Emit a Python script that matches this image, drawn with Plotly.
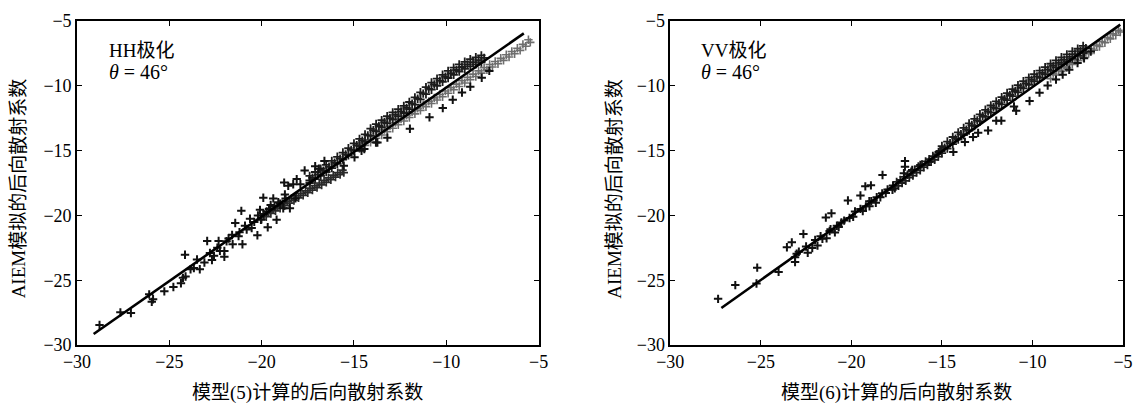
import plotly.graph_objects as go

# ---------------- HH polarisation (model 5) ----------------
# scattered points at the weak-backscatter end
hh_scatter_x = [-28.78, -27.65, -27.08, -26.09, -25.95, -25.88, -25.27, -24.78, -24.37, -24.26,
                -24.15, -24.12, -23.85, -23.67, -23.35, -23.10, -22.95, -22.69, -22.58, -22.33,
                -22.26, -22.02, -22.02, -21.79, -21.57, -21.43, -21.25, -21.10, -21.04, -20.81,
                -20.63, -20.54, -20.23, -20.09, -20.04, -19.91, -19.73, -19.67, -19.51, -19.37,
                -19.19, -19.10, -18.83, -18.78, -18.74, -18.56, -18.47, -18.29, -18.17,
                -23.50, -22.80, -22.40, -21.90, -21.60, -21.20, -20.90, -20.40, -20.20, -19.90,
                -19.60, -19.30, -19.00, -18.70, -17.67, -17.10, -16.60, -18.10, -17.90, -17.40, -16.90]
hh_scatter_y = [-28.45, -27.48, -27.53, -26.09, -26.67, -26.47, -25.86, -25.53, -25.23, -24.82,
                -23.04, -24.72, -24.16, -24.06, -24.16, -23.63, -21.98, -23.45, -23.12, -21.98,
                -22.74, -22.74, -23.20, -21.78, -22.23, -20.59, -21.60, -19.65, -22.23, -21.09,
                -20.26, -20.97, -21.53, -19.57, -20.33, -18.64, -19.70, -20.92, -19.19, -18.69,
                -20.33, -18.99, -19.45, -17.47, -18.38, -17.72, -19.45, -17.60, -18.69,
                -23.40, -22.90, -22.50, -22.00, -21.50, -21.30, -20.80, -20.50, -20.00, -19.90,
                -19.50, -19.30, -19.10, -18.70, -16.53, -16.20, -15.80, -17.20, -17.60, -17.30, -16.40]

# dense band lying above the fitted line (three overlapping rows)
hh_upper_x = [-17.4, -17.1, -16.8, -16.5, -16.2, -15.9, -15.6, -15.3, -15.0, -14.7, -14.4, -14.1,
              -13.8, -13.5, -13.2, -12.9, -12.6, -12.3, -12.0, -11.7, -11.4, -11.1, -10.8, -10.5,
              -10.2, -9.9, -9.6, -9.3, -9.0, -8.7, -8.4, -8.1,
              -17.25, -16.95, -16.65, -16.35, -16.05, -15.75, -15.45, -15.15, -14.85, -14.55,
              -14.25, -13.95, -13.65, -13.35, -13.05, -12.75, -12.45, -12.15, -11.85, -11.55,
              -11.25, -10.95, -10.65, -10.35, -10.05, -9.75, -9.45, -9.15, -8.85, -8.55, -8.25, -7.95,
              -17.4, -17.1, -16.8, -16.5, -16.2, -15.9, -15.6, -15.3, -15.0, -14.7, -14.4, -14.1,
              -13.8, -13.5, -13.2, -12.9, -12.6, -12.3, -12.0, -11.7, -11.4, -11.1, -10.8, -10.5,
              -10.2, -9.9, -9.6, -9.3, -9.0, -8.7, -8.4, -8.1]
hh_upper_y = [-16.95, -16.65, -16.40, -16.10, -15.80, -15.48, -15.15, -14.82, -14.45, -14.10,
              -13.75, -13.30, -12.95, -12.65, -12.35, -12.05, -11.80, -11.55, -11.25, -10.90,
              -10.50, -10.10, -9.75, -9.45, -9.15, -8.85, -8.60, -8.35, -8.15, -7.95, -7.80, -7.65,
              -17.10, -16.83, -16.55, -16.25, -15.94, -15.62, -15.29, -14.95, -14.58, -14.23,
              -13.83, -13.43, -13.10, -12.80, -12.50, -12.23, -11.97, -11.70, -11.38, -11.00,
              -10.60, -10.23, -9.90, -9.60, -9.30, -9.03, -8.78, -8.55, -8.35, -8.17, -8.03, -7.85,
              -17.50, -17.20, -16.95, -16.65, -16.35, -16.03, -15.70, -15.37, -15.00, -14.65,
              -14.30, -13.85, -13.50, -13.20, -12.90, -12.60, -12.35, -12.10, -11.80, -11.45,
              -11.05, -10.65, -10.30, -10.00, -9.70, -9.40, -9.15, -8.90, -8.70, -8.50, -8.35, -8.20]

# short band just under the line between -20 and -15.5
hh_short_x = [-20.0, -19.75, -19.5, -19.25, -19.0, -18.75, -18.5, -18.25, -18.0, -17.75, -17.5,
              -17.25, -17.0, -16.75, -16.5, -16.25, -16.0, -15.75, -15.55,
              -19.88, -19.62, -19.38, -19.12, -18.88, -18.62, -18.38, -18.12, -17.88, -17.62,
              -17.38, -17.12, -16.88, -16.62, -16.38, -16.12, -15.88, -15.62]
hh_short_y = [-20.30, -20.10, -19.85, -19.65, -19.45, -19.25, -19.05, -18.85, -18.65, -18.45, -18.25,
              -18.05, -17.85, -17.65, -17.45, -17.25, -17.05, -16.85, -16.70,
              -19.95, -19.73, -19.50, -19.30, -19.10, -18.90, -18.70, -18.50, -18.30, -18.10,
              -17.90, -17.70, -17.50, -17.30, -17.10, -16.90, -16.70, -16.50]

# lighter band under the line on the strong-backscatter side
hh_lower_x = [-14.7, -14.4, -14.1, -13.8, -13.5, -13.2, -12.9, -12.6, -12.3, -12.0, -11.7, -11.4,
              -11.1, -10.8, -10.5, -10.2, -9.9, -9.6, -9.3, -9.0, -8.7, -8.4, -8.1, -7.8, -7.5,
              -7.2, -6.9, -6.6, -6.3, -6.0, -5.7, -5.45,
              -14.55, -14.25, -13.95, -13.65, -13.35, -13.05, -12.75, -12.45, -12.15, -11.85,
              -11.55, -11.25, -10.95, -10.65, -10.35, -10.05, -9.75, -9.45, -9.15, -8.85, -8.55,
              -8.25, -7.95, -7.65, -7.35, -7.05, -6.75, -6.45, -6.15, -5.85, -5.55]
hh_lower_y = [-14.85, -14.60, -14.35, -14.05, -13.80, -13.55, -13.27, -13.00, -12.72, -12.45,
              -12.17, -11.90, -11.62, -11.37, -11.10, -10.85, -10.58, -10.30, -10.05, -9.78,
              -9.53, -9.28, -9.02, -8.77, -8.55, -8.30, -8.04, -7.78, -7.53, -7.27, -6.95, -6.65,
              -14.42, -14.17, -13.90, -13.62, -13.37, -13.10, -12.83, -12.56, -12.28, -12.00,
              -11.73, -11.46, -11.20, -10.93, -10.67, -10.40, -10.14, -9.87, -9.60, -9.35, -9.10,
              -8.85, -8.60, -8.36, -8.12, -7.87, -7.60, -7.35, -7.10, -6.80, -6.45]

# isolated points well below the line
hh_sparse_x = [-11.97, -10.91, -10.19, -9.65, -9.15, -8.70, -8.08, -7.67,
               -14.59, -13.19, -13.73, -15.55, -14.97, -14.44, -13.81]
hh_sparse_y = [-13.31, -12.43, -11.72, -11.08, -10.52, -10.07, -9.38, -8.85,
               -15.01, -14.00, -14.38, -16.16, -15.52, -14.88, -14.38]

hh_fit_x = [-29.1, -5.8]
hh_fit_y = [-29.15, -5.95]

# ---------------- VV polarisation (model 6) ----------------
vv_scatter_x = [-27.36, -26.41, -25.24, -25.20, -24.02, -23.56, -23.29, -23.11, -23.11, -23.02,
                -22.65, -22.41, -22.16, -21.87, -21.41, -21.37, -21.10, -21.15, -20.91, -20.55,
                -20.19, -19.50, -19.23, -18.92, -19.37, -19.01, -18.28, -18.65, -18.10, -17.73,
                -17.04, -17.04, -17.10, -16.64, -16.19, -15.72, -15.18,
                -22.9, -22.5, -22.0, -21.7, -21.2, -20.8, -20.4, -20.1, -19.8, -19.5, -19.2,
                -18.9, -18.6, -18.3, -18.0, -17.7,
                -21.6, -20.7, -19.9, -19.0, -18.4, -17.6]
vv_scatter_y = [-26.44, -25.38, -25.25, -24.03, -24.36, -22.46, -22.08, -23.60, -23.22, -22.96,
                -21.44, -22.89, -22.51, -22.33, -20.17, -21.77, -19.84, -21.06, -21.31, -20.55,
                -18.85, -18.47, -17.76, -17.68, -19.67, -18.90, -16.88, -19.03, -18.27, -18.02,
                -15.81, -16.24, -16.75, -16.49, -16.11, -15.86, -15.10,
                -22.8, -22.4, -21.9, -21.6, -21.2, -20.8, -20.4, -20.2, -19.7, -19.5, -19.3,
                -18.9, -18.6, -18.3, -18.0, -17.7,
                -21.8, -20.9, -20.1, -19.3, -18.6, -17.9]

# dense stroke along the line between -17.5 and -15
vv_mid_x = [-17.5, -17.3, -17.1, -16.9, -16.7, -16.5, -16.3, -16.1, -15.9, -15.7, -15.5, -15.3, -15.1,
            -17.4, -17.2, -17.0, -16.8, -16.6, -16.4, -16.2, -16.0, -15.8, -15.6, -15.4, -15.2]
vv_mid_y = [-17.42, -17.27, -17.03, -16.86, -16.62, -16.47, -16.22, -16.06, -15.83, -15.66, -15.42,
            -15.27, -15.02,
            -17.72, -17.50, -17.33, -17.08, -16.93, -16.70, -16.52, -16.28, -16.12, -15.86, -15.71,
            -15.46]

# dense band hugging the line from above (three overlapping rows)
vv_upper_x = [-15.0, -14.7, -14.4, -14.1, -13.8, -13.5, -13.2, -12.9, -12.6, -12.3, -12.0, -11.7,
              -11.4, -11.1, -10.8, -10.5, -10.2, -9.9, -9.6, -9.3, -9.0, -8.7, -8.4, -8.1, -7.8,
              -7.5, -7.2,
              -14.85, -14.55, -14.25, -13.95, -13.65, -13.35, -13.05, -12.75, -12.45, -12.15,
              -11.85, -11.55, -11.25, -10.95, -10.65, -10.35, -10.05, -9.75, -9.45, -9.15, -8.85,
              -8.55, -8.25, -7.95, -7.65, -7.35, -7.05,
              -15.0, -14.7, -14.4, -14.1, -13.8, -13.5, -13.2, -12.9, -12.6, -12.3, -12.0, -11.7,
              -11.4, -11.1, -10.8, -10.5, -10.2, -9.9, -9.6, -9.3, -9.0, -8.7, -8.4, -8.1, -7.8,
              -7.5, -7.2]
vv_upper_y = [-14.65, -14.30, -13.95, -13.60, -13.25, -12.90, -12.55, -12.20, -11.85, -11.52,
              -11.20, -10.88, -10.56, -10.25, -9.95, -9.65, -9.37, -9.10, -8.83, -8.56, -8.30,
              -8.04, -7.80, -7.58, -7.35, -7.14, -6.92,
              -14.78, -14.43, -14.08, -13.73, -13.38, -13.03, -12.68, -12.33, -11.99, -11.66,
              -11.34, -11.02, -10.71, -10.40, -10.10, -9.81, -9.53, -9.27, -9.00, -8.73, -8.47,
              -8.22, -7.99, -7.77, -7.55, -7.33, -7.10,
              -15.20, -14.85, -14.50, -14.15, -13.80, -13.45, -13.10, -12.75, -12.40, -12.07,
              -11.75, -11.43, -11.11, -10.80, -10.50, -10.20, -9.92, -9.65, -9.38, -9.11, -8.85,
              -8.59, -8.35, -8.13, -7.90, -7.69, -7.47]

# light band just under the line running out to the top-right corner
vv_lower_x = [-9.0, -8.7, -8.4, -8.1, -7.8, -7.5, -7.2, -6.9, -6.6, -6.3, -6.0, -5.7, -5.4, -5.15,
              -8.85, -8.55, -8.25, -7.95, -7.65, -7.35, -7.05, -6.75, -6.45, -6.15, -5.85, -5.55,
              -5.25]
vv_lower_y = [-9.45, -9.17, -8.90, -8.62, -8.35, -8.07, -7.80, -7.52, -7.25, -6.97, -6.68, -6.38,
              -6.10, -5.85,
              -9.06, -8.78, -8.51, -8.23, -7.96, -7.68, -7.41, -7.13, -6.86, -6.58, -6.28, -5.99,
              -5.72]

# isolated points below the line
vv_sparse_x = [-13.00, -12.00, -11.72, -10.90, -11.02, -10.16, -9.61, -9.16, -8.70, -8.33,
               -7.97, -7.51, -7.15, -14.37, -13.73, -13.28, -12.45, -6.78]
vv_sparse_y = [-13.63, -12.69, -12.69, -11.93, -11.60, -11.17, -10.53, -9.98, -9.52, -9.14,
               -8.76, -8.25, -7.87, -15.10, -14.34, -13.96, -13.45, -7.36]

vv_fit_x = [-27.18, -5.15]
vv_fit_y = [-27.15, -5.28]

axis_ticks = [-30, -25, -20, -15, -10, -5]

SERIF = "Liberation Serif, Times New Roman, serif"
TITLE_FONT = "Liberation Serif, Noto Sans CJK SC, serif"

fig = go.Figure()


def add_points(xs, ys, axes, color, size, width):
    fig.add_trace(go.Scatter(
        x=xs, y=ys, mode="markers", xaxis=axes[0], yaxis=axes[1],
        marker=dict(symbol="cross-thin", size=size, color=color,
                    line=dict(width=width, color=color)),
        showlegend=False, hoverinfo="skip"))


def add_fit(xs, ys, axes):
    fig.add_trace(go.Scatter(
        x=xs, y=ys, mode="lines", xaxis=axes[0], yaxis=axes[1],
        line=dict(color="black", width=2.6), showlegend=False, hoverinfo="skip"))


left = ("x", "y")
right = ("x2", "y2")

add_points(hh_lower_x, hh_lower_y, left, "#6e6e6e", 6, 1.6)
add_points(hh_upper_x, hh_upper_y, left, "#1c1c1c", 6, 1.8)
add_points(hh_short_x, hh_short_y, left, "#2a2a2a", 6, 1.7)
add_points(hh_scatter_x, hh_scatter_y, left, "#111111", 6, 2)
add_points(hh_sparse_x, hh_sparse_y, left, "#111111", 6, 2)
add_fit(hh_fit_x, hh_fit_y, left)

add_points(vv_lower_x, vv_lower_y, right, "#6e6e6e", 6, 1.6)
add_points(vv_upper_x, vv_upper_y, right, "#1c1c1c", 6, 1.8)
add_points(vv_mid_x, vv_mid_y, right, "#1c1c1c", 6, 1.8)
add_points(vv_scatter_x, vv_scatter_y, right, "#111111", 6, 2)
add_points(vv_sparse_x, vv_sparse_y, right, "#111111", 6, 2)
add_fit(vv_fit_x, vv_fit_y, right)

axis_style = dict(
    range=[-30, -5], tickmode="array", tickvals=axis_ticks,
    ticks="inside", ticklen=5, tickwidth=1, tickcolor="black",
    showline=True, linecolor="black", linewidth=1.6, mirror="ticks",
    showgrid=False, zeroline=False,
    tickfont=dict(family=SERIF, size=18, color="black"),
)

fig.update_layout(
    width=1144, height=405,
    margin=dict(l=77, r=11, t=17, b=60),
    paper_bgcolor="white", plot_bgcolor="white",
    xaxis=dict(domain=[0, 0.4413], anchor="y", **axis_style),
    yaxis=dict(domain=[0, 1], anchor="x", **axis_style),
    xaxis2=dict(domain=[0.5672, 1.0], anchor="y2", **axis_style),
    yaxis2=dict(domain=[0, 1], anchor="x2", **axis_style),
)

title_font = dict(family=TITLE_FONT, size=19, color="black")
label_font = dict(family=TITLE_FONT, size=19, color="black")
theta_font = dict(family=SERIF, size=20, color="black")

annotations = [
    # axis titles
    dict(text="模型(5)计算的后向散射系数", xref="paper", yref="paper",
         x=0.2206, y=-0.149, xanchor="center", yanchor="middle", showarrow=False, font=title_font),
    dict(text="模型(6)计算的后向散射系数", xref="paper", yref="paper",
         x=0.7836, y=-0.149, xanchor="center", yanchor="middle", showarrow=False, font=title_font),
    dict(text="AIEM模拟的后向散射系数", xref="paper", yref="paper", textangle=-90,
         x=-0.0559, y=0.482, xanchor="center", yanchor="middle", showarrow=False, font=title_font),
    dict(text="AIEM模拟的后向散射系数", xref="paper", yref="paper", textangle=-90,
         x=0.5142, y=0.482, xanchor="center", yanchor="middle", showarrow=False, font=title_font),
    # panel labels
    dict(text="HH极化", xref="x", yref="y", x=-28.35, y=-7.3,
         xanchor="left", yanchor="middle", showarrow=False, font=label_font),
    dict(text="<i>θ</i> = 46°", xref="x", yref="y", x=-28.35, y=-8.95,
         xanchor="left", yanchor="middle", showarrow=False, font=theta_font),
    dict(text="VV极化", xref="x2", yref="y2", x=-28.4, y=-7.3,
         xanchor="left", yanchor="middle", showarrow=False, font=label_font),
    dict(text="<i>θ</i> = 46°", xref="x2", yref="y2", x=-28.4, y=-8.95,
         xanchor="left", yanchor="middle", showarrow=False, font=theta_font),
]
fig.update_layout(annotations=annotations)

fig.write_html("out.html")
